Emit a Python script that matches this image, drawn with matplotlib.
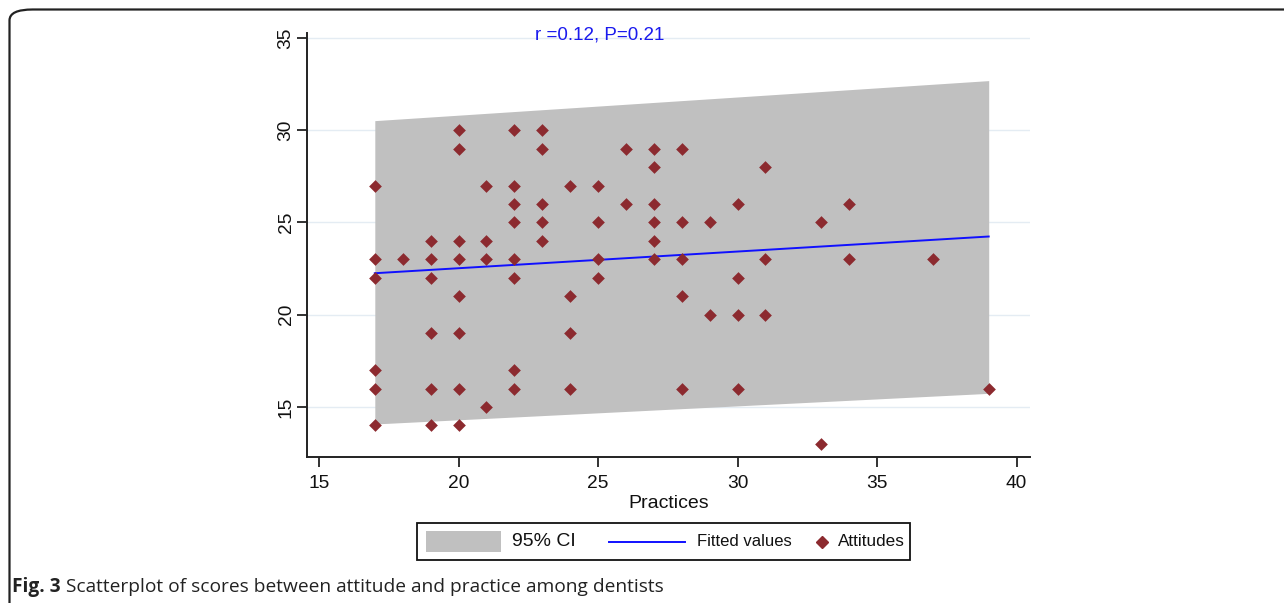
import matplotlib
matplotlib.use("Agg")
import matplotlib.pyplot as plt
from matplotlib.patches import FancyBboxPatch, Rectangle
from matplotlib.lines import Line2D

# ---- data ----
practice_x = [17, 17, 17, 17, 17, 17,
              18,
              19, 19, 19, 19, 19, 19,
              20, 20, 20, 20, 20, 20, 20, 20,
              21, 21, 21, 21,
              22, 22, 22, 22, 22, 22, 22, 22,
              23, 23, 23, 23, 23,
              24, 24, 24, 24,
              25, 25, 25, 25,
              26, 26,
              27, 27, 27, 27, 27, 27,
              28, 28, 28, 28, 28,
              29, 29,
              30, 30, 30, 30,
              31, 31, 31,
              33, 33,
              34, 34,
              37,
              39]
attitude_y = [27, 23, 22, 17, 16, 14,
              23,
              24, 23, 22, 19, 16, 14,
              30, 29, 24, 23, 21, 19, 16, 14,
              27, 24, 23, 15,
              30, 27, 26, 25, 23, 22, 17, 16,
              30, 29, 26, 25, 24,
              27, 21, 19, 16,
              27, 25, 23, 22,
              29, 26,
              29, 28, 26, 25, 24, 23,
              29, 25, 23, 21, 16,
              25, 20,
              26, 22, 20, 16,
              28, 23, 20,
              25, 13,
              26, 23,
              23,
              16]

fit_x = [17, 39]
fit_y = [22.25, 24.24]
ci_lower = [14.08, 15.74]
ci_upper = [30.52, 32.69]

x_ticks = [15, 20, 25, 30, 35, 40]
y_ticks = [15, 20, 25, 30, 35]

annotation = "r =0.12, P=0.21"
x_label = "Practices"
legend_labels = ["95% CI", "Fitted values", "Attitudes"]
caption_bold = "Fig. 3"
caption_text = " Scatterplot of scores between attitude and practice among dentists"

CI_COLOR = "#c0c0c0"
FIT_COLOR = "#1010ff"
PT_COLOR = "#8c2a2f"

W, H = 1284, 603
plt.rcParams['font.family'] = ['Liberation Sans', 'DejaVu Sans']
fig = plt.figure(figsize=(W / 100, H / 100), dpi=100)


def fx(px):
    return px / W


def fy(py):
    return 1 - py / H


# outer rounded border (top and left visible)
border = FancyBboxPatch((fx(9.5), -0.2), 1.2, 1.2 - 9.5 / H,
                        boxstyle="round,pad=0,rounding_size=0.018",
                        transform=fig.transFigure, fill=False,
                        edgecolor="#222222", linewidth=1.6, clip_on=False)
fig.patches.append(border)

ax = fig.add_axes([fx(307), fy(457), (1030 - 307) / W, (457 - 33) / H])
ax.set_xlim(14.57, 40.48)
ax.set_ylim(12.29, 35.27)

ax.fill_between(fit_x, ci_lower, ci_upper, color=CI_COLOR, linewidth=0, zorder=1)
ax.plot(fit_x, fit_y, color=FIT_COLOR, linewidth=1.4, zorder=3)
ax.scatter(practice_x, attitude_y, marker="D", s=42, color=PT_COLOR, linewidths=0, zorder=4)

for yt in y_ticks:
    ax.axhline(yt, color="#e4ecf3", linewidth=1.0, zorder=0)

ax.set_xticks(x_ticks)
ax.set_yticks(y_ticks)
ax.set_yticklabels([str(v) for v in y_ticks], rotation=90, va="center")
ax.tick_params(axis="both", direction="out", length=7, width=1.3, color="#222222",
               labelsize=13.8, labelcolor="#111111")
ax.tick_params(axis="y", pad=2)
ax.tick_params(axis="x", pad=6)
for s in ["top", "right"]:
    ax.spines[s].set_visible(False)
for s in ["left", "bottom"]:
    ax.spines[s].set_linewidth(1.4)
    ax.spines[s].set_color("#222222")

ax.set_xlabel(x_label, fontsize=14, labelpad=2, color="#111111")
fig.text(fx(600), fy(35), annotation, fontsize=13.5, color="#1a1aee",
         ha="center", va="center")

# ---- legend (drawn as a framed box below the axes) ----
ly = fy(541.5)
fig.patches.append(Rectangle((fx(417), fy(560)), (910 - 417) / W, (560 - 523) / H,
                             transform=fig.transFigure, fill=False,
                             edgecolor="#111111", linewidth=1.3))
fig.patches.append(Rectangle((fx(426), fy(552)), (501 - 426) / W, (552 - 531) / H,
                             transform=fig.transFigure, facecolor=CI_COLOR,
                             edgecolor="none"))
fig.text(fx(512), ly, legend_labels[0], fontsize=14, ha="left", va="center", color="#111111")
fig.lines.append(Line2D([fx(609), fx(685)], [ly, ly], transform=fig.transFigure,
                        color=FIT_COLOR, linewidth=1.4))
fig.text(fx(697), ly, legend_labels[1], fontsize=12, ha="left", va="center", color="#111111")
fig.lines.append(Line2D([fx(822)], [ly], transform=fig.transFigure, marker="D",
                        markersize=6.5, color=PT_COLOR, linestyle="none"))
fig.text(fx(838), ly, legend_labels[2], fontsize=12.3, ha="left", va="center", color="#111111")

# ---- caption ----
cap_family = ["Open Sans", "DejaVu Sans"]
t1 = fig.text(fx(12), fy(587), caption_bold, fontsize=13.8, fontweight="bold",
              family=cap_family, ha="left", va="center", color="#222222")
fig.canvas.draw()
bb = t1.get_window_extent()
fig.text(bb.x1 / W, fy(587), caption_text, fontsize=13.8,
         family=cap_family, ha="left", va="center", color="#222222")

fig.savefig("out.png", dpi=100)
